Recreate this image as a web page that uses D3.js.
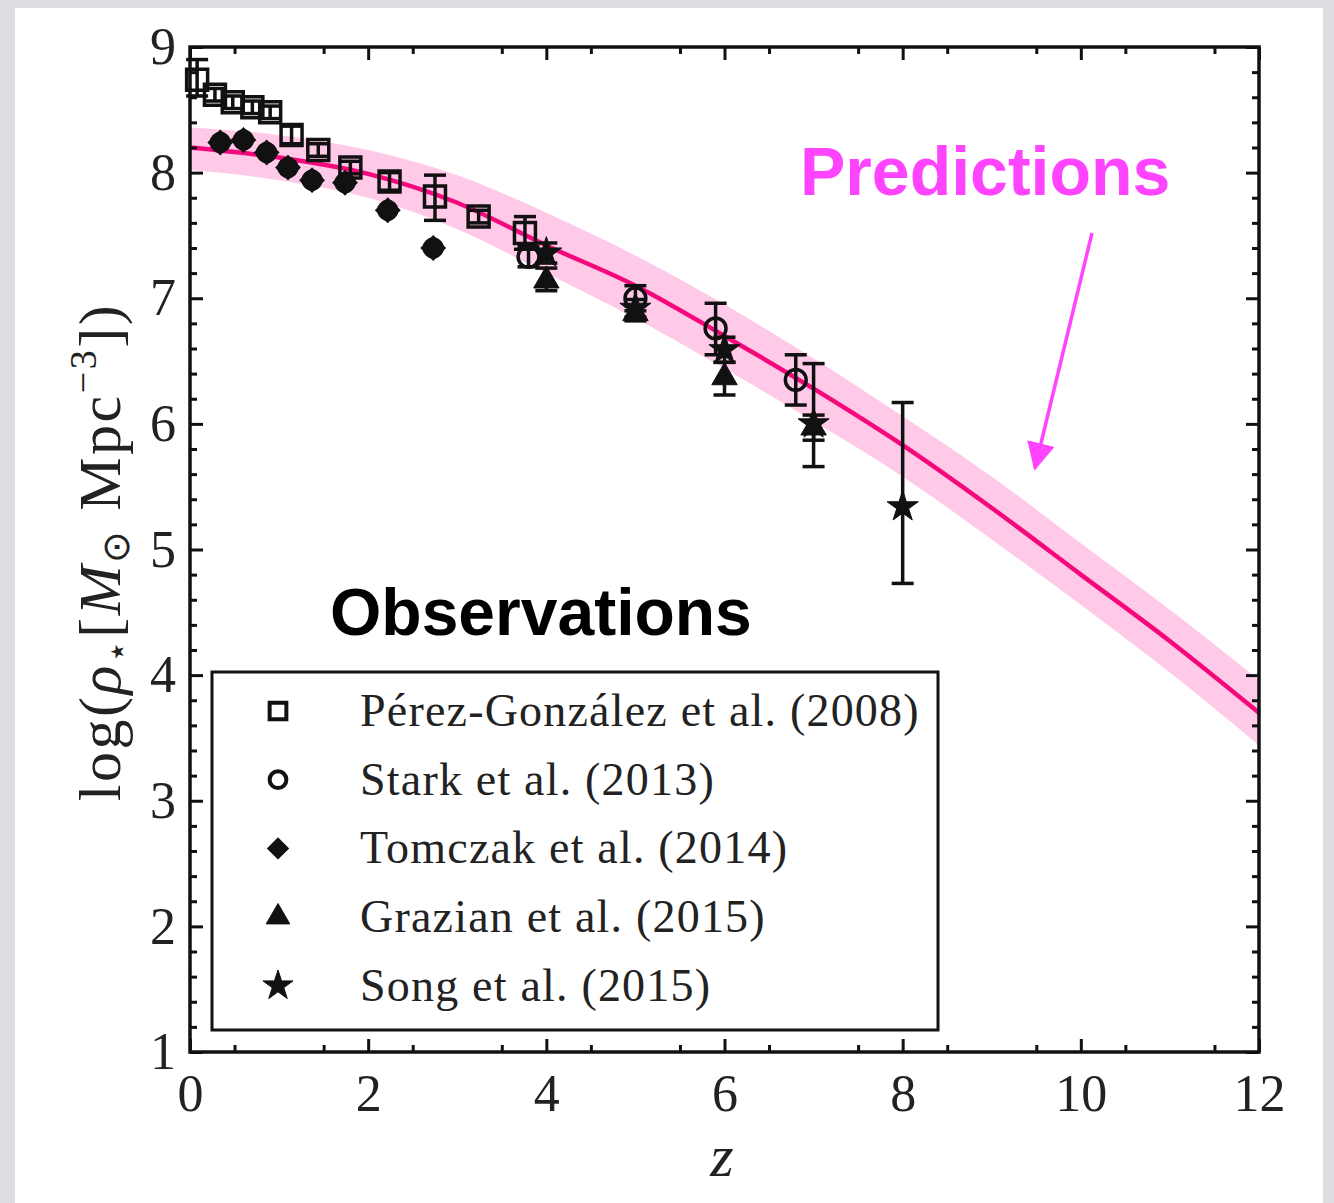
<!DOCTYPE html>
<html lang="en">
<head>
<meta charset="utf-8">
<title>Stellar mass density</title>
<script src="https://d3js.org/d3.v7.min.js"></script>
<style>
body { margin: 0; background: #dcdde0; }
svg { display: block; }
.tick text { font-family: "Liberation Serif", "DejaVu Serif", serif; fill: #222; }
</style>
</head>
<body>
<div id="chart"></div>
<script>
// prediction curve (model) and its band
var predZ  = [0, 1, 2, 3, 4, 5, 6, 7, 8, 9, 10, 11, 12];
var predMid = [8.20, 8.12, 7.99, 7.76, 7.42, 7.10, 6.70, 6.28, 5.83, 5.33, 4.80, 4.27, 3.70];
var predHi  = [8.36, 8.30, 8.18, 7.98, 7.68, 7.34, 6.95, 6.52, 6.06, 5.58, 5.05, 4.52, 3.96];
var predLo  = [8.02, 7.94, 7.80, 7.55, 7.20, 6.84, 6.44, 6.02, 5.58, 5.08, 4.56, 4.02, 3.44];

// observations
var perezZ   = [0.08, 0.28, 0.48, 0.70, 0.90, 1.14, 1.44, 1.80, 2.24, 2.75, 3.24, 3.76];
var perezV   = [8.74, 8.62, 8.56, 8.52, 8.48, 8.30, 8.18, 8.04, 7.93, 7.81, 7.65, 7.52];
var perezUp  = [0.16, 0.05, 0.05, 0.05, 0.05, 0.07, 0.05, 0.05, 0.07, 0.17, 0.05, 0.13];
var perezDn  = [0.13, 0.05, 0.05, 0.05, 0.05, 0.07, 0.05, 0.05, 0.07, 0.19, 0.05, 0.13];

var starkZ  = [3.80, 5.00, 5.90, 6.80];
var starkV  = [7.33, 7.00, 6.76, 6.35];
var starkUp = [0.08, 0.10, 0.20, 0.20];
var starkDn = [0.08, 0.10, 0.21, 0.20];

var tomczakZ = [0.34, 0.60, 0.86, 1.10, 1.37, 1.74, 2.22, 2.73];
var tomczakV = [8.24, 8.26, 8.16, 8.04, 7.94, 7.92, 7.70, 7.40];

var grazianZ  = [4.00, 5.00, 6.00, 7.00];
var grazianV  = [7.14, 6.88, 6.37, 5.97];
var grazianUp = [0.10, 0.06, 0.12, 0.10];
var grazianDn = [0.08, 0.06, 0.14, 0.10];

var songZ  = [4.00, 5.00, 6.00, 7.00, 8.00];
var songV  = [7.36, 6.92, 6.59, 6.00, 5.34];
var songUp = [0.08, 0.07, 0.10, 0.48, 0.83];
var songDn = [0.08, 0.07, 0.10, 0.34, 0.61];

var legendNames = ["Pérez-González et al. (2008)", "Stark et al. (2013)", "Tomczak et al. (2014)", "Grazian et al. (2015)", "Song et al. (2015)"];

var xMajor = [0, 2, 4, 6, 8, 10, 12];
var yMajor = [1, 2, 3, 4, 5, 6, 7, 8, 9];

(function() {
var W = 1334, H = 1203;
var svg = d3.select("#chart").append("svg").attr("width", W).attr("height", H);

svg.append("rect").attr("x", 15).attr("y", 8).attr("width", 1308).attr("height", H - 8).attr("fill", "#fff");

var pLeft = 190, pRight = 1259, pTop = 47, pBottom = 1052;
var x = d3.scaleLinear().domain([0, 12]).range([pLeft, pRight]);
var y = d3.scaleLinear().domain([1, 9]).range([pBottom, pTop]);

// band + curve
var band = d3.area()
  .x(function(d, i) { return x(predZ[i]); })
  .y0(function(d, i) { return y(predLo[i]); })
  .y1(function(d, i) { return y(predHi[i]); })
  .curve(d3.curveMonotoneX);
svg.append("path").datum(predZ).attr("d", band).attr("fill", "#ffc9e8");

var line = d3.line()
  .x(function(d, i) { return x(predZ[i]); })
  .y(function(d, i) { return y(predMid[i]); })
  .curve(d3.curveMonotoneX);
svg.append("path").datum(predZ).attr("d", line)
  .attr("fill", "none").attr("stroke", "#f5087c").attr("stroke-width", 4.5);

// axes: major + minor on all sides, ticks inward
function styleAxis(g) {
  g.select(".domain").remove();
  g.selectAll(".tick line").attr("stroke", "#111").attr("stroke-width", 3);
}
var fs = 52;
svg.append("g").attr("transform", "translate(0," + pBottom + ")")
  .call(d3.axisBottom(x).tickValues(xMajor).tickSize(-13).tickPadding(22).tickFormat(d3.format("d")))
  .call(styleAxis).selectAll("text").attr("font-size", fs).attr("dy", "0.71em");
svg.append("g").attr("transform", "translate(0," + pBottom + ")")
  .call(d3.axisBottom(x).tickValues(d3.range(0.5, 12, 1)).tickSize(-7).tickFormat(""))
  .call(styleAxis);
svg.append("g").attr("transform", "translate(0," + pTop + ")")
  .call(d3.axisTop(x).tickValues(xMajor).tickSize(-13).tickFormat(""))
  .call(styleAxis);
svg.append("g").attr("transform", "translate(0," + pTop + ")")
  .call(d3.axisTop(x).tickValues(d3.range(0.5, 12, 1)).tickSize(-7).tickFormat(""))
  .call(styleAxis);

var yMinor = d3.range(1.2, 9, 0.2).filter(function(v) { return Math.abs(v - Math.round(v)) > 0.05; });
svg.append("g").attr("transform", "translate(" + pLeft + ",0)")
  .call(d3.axisLeft(y).tickValues(yMajor).tickSize(-13).tickPadding(14).tickFormat(d3.format("d")))
  .call(styleAxis).selectAll("text").attr("font-size", fs);
svg.append("g").attr("transform", "translate(" + pLeft + ",0)")
  .call(d3.axisLeft(y).tickValues(yMinor).tickSize(-7).tickFormat(""))
  .call(styleAxis);
svg.append("g").attr("transform", "translate(" + pRight + ",0)")
  .call(d3.axisRight(y).tickValues(yMajor).tickSize(-13).tickFormat(""))
  .call(styleAxis);
svg.append("g").attr("transform", "translate(" + pRight + ",0)")
  .call(d3.axisRight(y).tickValues(yMinor).tickSize(-7).tickFormat(""))
  .call(styleAxis);

svg.append("rect").attr("x", pLeft).attr("y", pTop).attr("width", pRight - pLeft).attr("height", pBottom - pTop)
  .attr("fill", "none").attr("stroke", "#111").attr("stroke-width", 3.5);

// error bars with caps
function errorBars(zs, vs, up, dn) {
  var g = svg.append("g").attr("stroke", "#111").attr("stroke-width", 3.5).attr("fill", "none");
  zs.forEach(function(z, i) {
    var cx = x(z), y1 = y(vs[i] + up[i]), y2 = y(vs[i] - dn[i]);
    g.append("line").attr("x1", cx).attr("x2", cx).attr("y1", y1).attr("y2", y2);
    g.append("line").attr("x1", cx - 11).attr("x2", cx + 11).attr("y1", y1).attr("y2", y1);
    g.append("line").attr("x1", cx - 11).attr("x2", cx + 11).attr("y1", y2).attr("y2", y2);
  });
}
function markers(zs, vs, type, size, filled, rot) {
  svg.append("g").selectAll("path").data(zs).join("path")
    .attr("transform", function(d, i) { return "translate(" + x(d) + "," + y(vs[i]) + ") rotate(" + (rot || 0) + ")"; })
    .attr("d", d3.symbol().type(type).size(size))
    .attr("fill", filled ? "#111" : "none")
    .attr("stroke", "#111").attr("stroke-width", filled ? 1 : 3.5);
}

errorBars(perezZ, perezV, perezUp, perezDn);
errorBars(starkZ, starkV, starkUp, starkDn);
errorBars(grazianZ, grazianV, grazianUp, grazianDn);
errorBars(songZ, songV, songUp, songDn);

// Tomczak: filled diamond over a disc (rounded look of the rendered marker)
markers(tomczakZ, tomczakV, d3.symbolCircle, 330, true);
markers(tomczakZ, tomczakV, d3.symbolSquare, 300, true, 45);
markers(perezZ, perezV, d3.symbolSquare, 440, false);
markers(starkZ, starkV, d3.symbolCircle, 340, false);
markers(grazianZ, grazianV, d3.symbolTriangle, 280, true);
markers(songZ, songV, d3.symbolStar, 300, true);

// legend
var lg = svg.append("g");
lg.append("rect").attr("x", 212).attr("y", 672).attr("width", 726).attr("height", 358)
  .attr("fill", "#fff").attr("stroke", "#111").attr("stroke-width", 3);
var legendTypes = [d3.symbolSquare, d3.symbolCircle, d3.symbolSquare, d3.symbolTriangle, d3.symbolStar];
var legendRot = [0, 0, 45, 0, 0];
var legendFilled = [false, false, true, true, true];
var legendSizes = [280, 220, 220, 240, 280];
legendNames.forEach(function(name, i) {
  var ry = 711 + i * 68.7;
  lg.append("path").attr("transform", "translate(278," + ry + ") rotate(" + legendRot[i] + ")")
    .attr("d", d3.symbol().type(legendTypes[i]).size(legendSizes[i]))
    .attr("fill", legendFilled[i] ? "#111" : "none")
    .attr("stroke", "#111").attr("stroke-width", legendFilled[i] ? 1 : 4);
  lg.append("text").attr("x", 360).attr("y", ry + 15)
    .attr("font-family", "Liberation Serif, serif").attr("font-size", 46).attr("letter-spacing", 1.2)
    .attr("fill", "#222")
    .text(name);
});

// axis titles
svg.append("text").attr("x", 722).attr("y", 1176).attr("text-anchor", "middle")
  .attr("font-family", "Liberation Serif, serif").attr("font-style", "italic").attr("font-size", 60)
  .attr("fill", "#222").text("z");

var yl = svg.append("text").attr("transform", "translate(120,552) rotate(-90)").attr("text-anchor", "middle")
  .attr("font-family", "Liberation Serif, serif").attr("font-size", 60).attr("letter-spacing", 2.5)
  .attr("fill", "#222");
yl.append("tspan").text("log(");
yl.append("tspan").attr("font-style", "italic").text("ρ");
yl.append("tspan").attr("font-size", 36).attr("dy", 9).text("⋆");
yl.append("tspan").attr("dy", -9).text("[");
yl.append("tspan").attr("font-style", "italic").text("M");
yl.append("tspan").attr("font-size", 38).attr("dy", 9).text("⊙");
yl.append("tspan").attr("dy", -9).text(" Mpc");
yl.append("tspan").attr("font-size", 38).attr("dy", -24).text("−3");
yl.append("tspan").attr("dy", 24).text("])");

// annotations
svg.append("text").attr("x", 330).attr("y", 635)
  .attr("font-family", "Liberation Sans, Arial, sans-serif").attr("font-weight", "bold").attr("font-size", 66)
  .attr("fill", "#000").text("Observations");
svg.append("text").attr("x", 800).attr("y", 195)
  .attr("font-family", "Liberation Sans, Arial, sans-serif").attr("font-weight", "bold").attr("font-size", 68)
  .attr("fill", "#ff44ff").text("Predictions");

svg.append("defs").append("marker").attr("id", "ah").attr("viewBox", "0 0 10 10")
  .attr("refX", 9).attr("refY", 5)
  .attr("markerUnits", "userSpaceOnUse").attr("orient", "auto")
  .attr("markerWidth", 28).attr("markerHeight", 28)
  .append("path").attr("d", "M0,0 L10,5 L0,10 z").attr("fill", "#ff44ff");
svg.append("line").attr("x1", 1092).attr("y1", 233).attr("x2", 1035).attr("y2", 468)
  .attr("stroke", "#ff44ff").attr("stroke-width", 3.5).attr("marker-end", "url(#ah)");
})();
</script>
</body>
</html>
